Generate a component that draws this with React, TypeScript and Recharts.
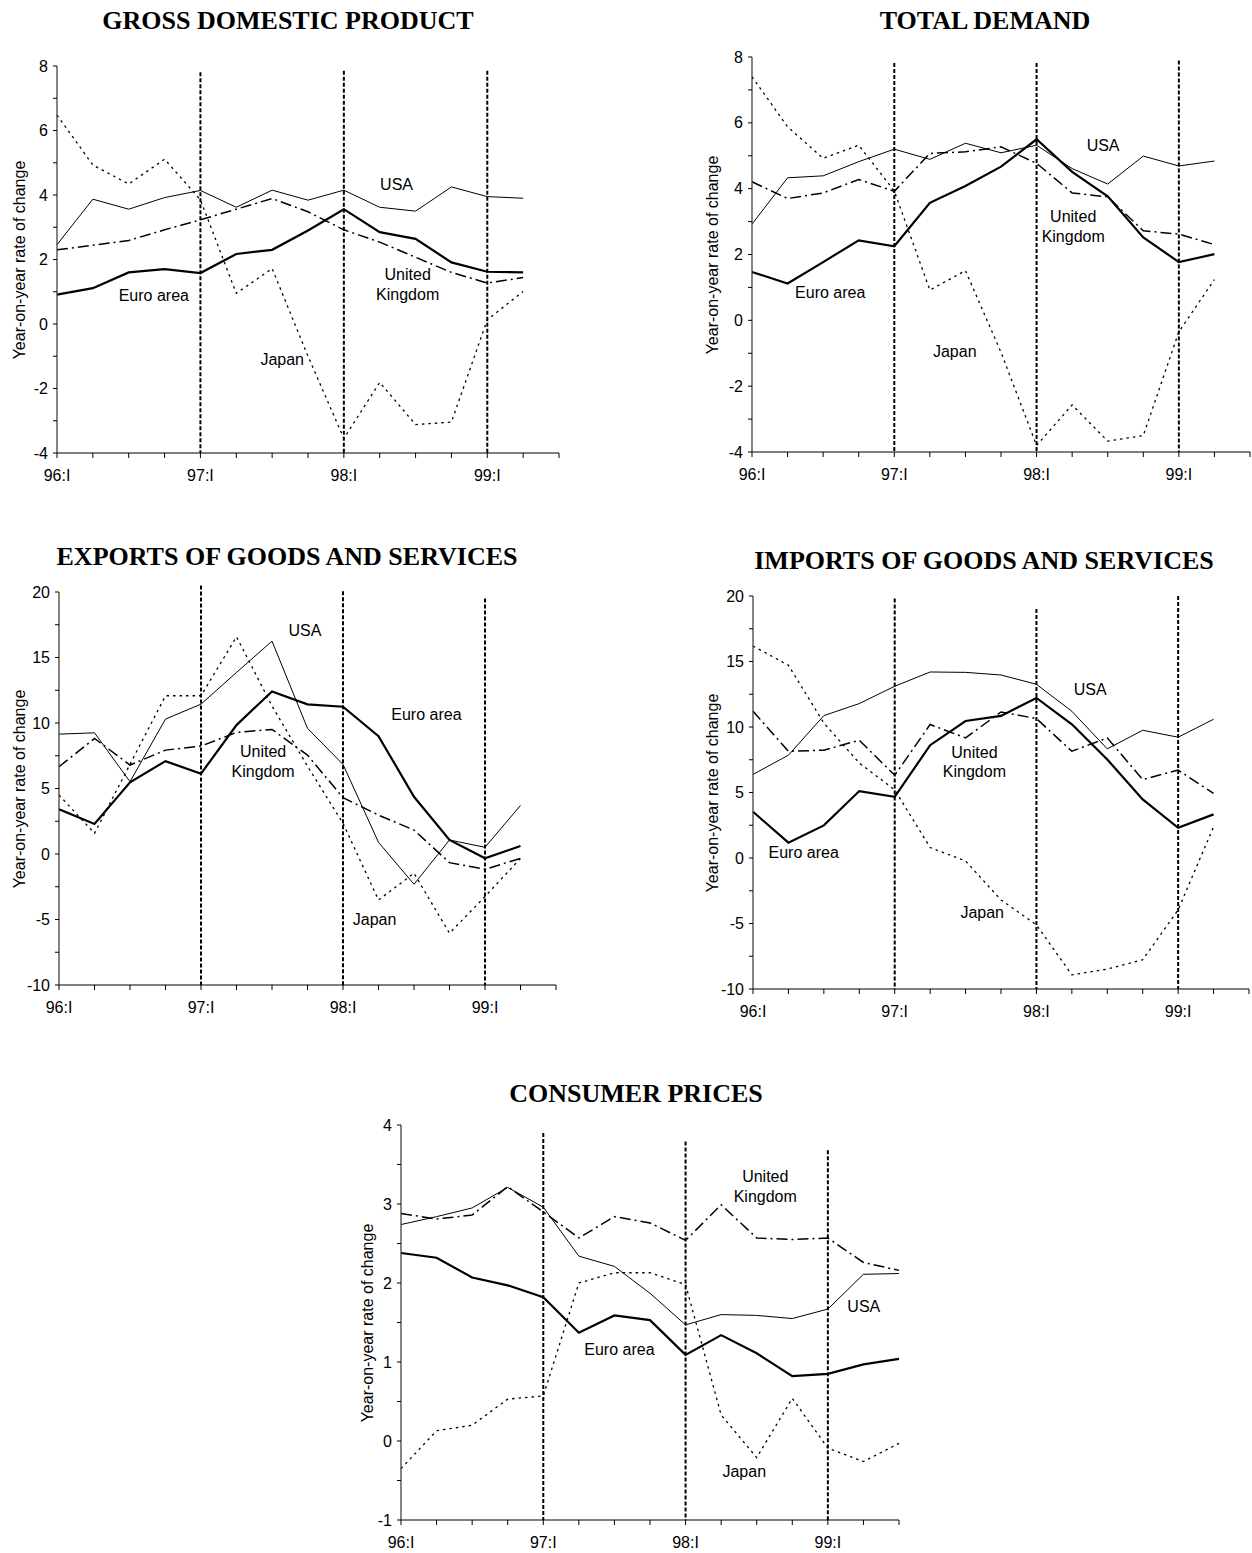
import React from 'react';
import { LineChart, Line, XAxis, YAxis, ReferenceLine, ReferenceDot } from 'recharts';

// ---------- shared axis data ----------
const quarterTicks = [0, 1, 2, 3, 4, 5, 6, 7, 8, 9, 10, 11, 12, 13, 14];
const quarterLabels = ['96:I', '', '', '', '97:I', '', '', '', '98:I', '', '', '', '99:I', '', ''];
const yearStarts = [4, 8, 12];

// ---------- GDP ----------
const gdpUSA = [2.46, 3.87, 3.56, 3.92, 4.14, 3.62, 4.15, 3.84, 4.15, 3.62, 3.5, 4.25, 3.95, 3.9];
const gdpEuro = [0.91, 1.11, 1.6, 1.7, 1.58, 2.17, 2.3, 2.9, 3.56, 2.85, 2.64, 1.91, 1.62, 1.6];
const gdpUK = [2.3, 2.44, 2.59, 2.92, 3.23, 3.56, 3.89, 3.48, 2.92, 2.54, 2.07, 1.6, 1.27, 1.44];
const gdpJapan = [6.48, 4.93, 4.34, 5.11, 3.85, 0.95, 1.72, -1.0, -3.55, -1.81, -3.12, -3.04, 0.13, 1.01];
const gdpVTops = [7.81, 7.85, 7.85];
const gdpLabelText = ['USA', 'Euro area', 'United', 'Kingdom', 'Japan'];
const gdpLabelX = [9.47, 2.7, 9.78, 9.78, 6.28];
const gdpLabelY = [4.33, 0.88, 1.55, 0.93, -1.08];

// ---------- Total demand ----------
const tdUSA = [2.92, 4.33, 4.39, 4.82, 5.2, 4.89, 5.38, 5.09, 5.32, 4.61, 4.14, 4.99, 4.69, 4.84];
const tdEuro = [1.47, 1.12, 1.77, 2.43, 2.25, 3.57, 4.08, 4.67, 5.5, 4.51, 3.77, 2.52, 1.77, 2.01];
const tdUK = [4.21, 3.7, 3.87, 4.28, 3.92, 5.07, 5.12, 5.27, 4.77, 3.87, 3.75, 2.72, 2.62, 2.3];
const tdJapan = [7.4, 5.88, 4.92, 5.32, 3.93, 0.92, 1.51, -0.97, -3.8, -2.57, -3.67, -3.5, -0.35, 1.24];
const tdVTops = [7.82, 7.82, 7.89];
const tdLabelText = ['USA', 'United', 'Kingdom', 'Euro area', 'Japan'];
const tdLabelX = [9.87, 9.03, 9.03, 2.2, 5.7];
const tdLabelY = [5.32, 3.16, 2.56, 0.84, -0.94];

// ---------- Exports ----------
const exUSA = [9.15, 9.25, 5.52, 10.3, 11.44, 13.86, 16.25, 9.59, 6.84, 0.89, -2.31, 1.07, 0.51, 3.71];
const exEuro = [3.41, 2.29, 5.47, 7.09, 6.13, 9.84, 12.41, 11.42, 11.24, 9.0, 4.37, 1.07, -0.33, 0.61];
const exUK = [6.66, 8.82, 6.79, 7.93, 8.24, 9.28, 9.51, 7.55, 4.3, 2.97, 1.83, -0.66, -1.17, -0.33];
const exJapan = [4.5, 1.58, 6.85, 12.08, 12.08, 16.58, 11.3, 6.7, 2.34, -3.51, -1.47, -6.05, -3.25, -0.33];
const exVTops = [20.5, 20.05, 19.5];
const exLabelText = ['USA', 'Euro area', 'United', 'Kingdom', 'Japan'];
const exLabelX = [6.93, 10.35, 5.75, 5.75, 8.89];
const exLabelY = [17.09, 10.65, 7.81, 6.28, -4.98];

// ---------- Imports ----------
const imUSA = [6.38, 7.85, 10.87, 11.79, 13.11, 14.2, 14.17, 13.97, 13.26, 11.2, 8.33, 9.75, 9.22, 10.59];
const imEuro = [3.53, 1.17, 2.49, 5.11, 4.67, 8.61, 10.46, 10.85, 12.22, 10.21, 7.52, 4.47, 2.31, 3.33];
const imUK = [11.2, 8.15, 8.23, 8.99, 6.32, 10.19, 9.17, 11.15, 10.64, 8.15, 9.17, 5.99, 6.71, 4.93];
const imJapan = [16.18, 14.71, 10.3, 7.25, 5.2, 0.8, -0.23, -3.2, -5.11, -8.92, -8.48, -7.77, -3.96, 2.39];
const imVTops = [19.8, 19.0, 20.0];
const imLabelText = ['USA', 'United', 'Kingdom', 'Euro area', 'Japan'];
const imLabelX = [9.52, 6.25, 6.25, 1.43, 6.47];
const imLabelY = [12.88, 8.1, 6.58, 0.41, -4.17];

// ---------- Consumer prices ----------
const cpUSA = [2.74, 2.84, 2.95, 3.21, 2.96, 2.34, 2.21, 1.87, 1.47, 1.6, 1.59, 1.55, 1.67, 2.11, 2.12];
const cpEuro = [2.38, 2.32, 2.07, 1.97, 1.82, 1.37, 1.59, 1.53, 1.09, 1.34, 1.11, 0.82, 0.85, 0.97, 1.04];
const cpUK = [2.88, 2.81, 2.86, 3.22, 2.9, 2.57, 2.84, 2.76, 2.54, 2.99, 2.57, 2.55, 2.57, 2.26, 2.16];
const cpJapan = [-0.35, 0.13, 0.2, 0.53, 0.57, 2.0, 2.13, 2.13, 1.98, 0.33, -0.21, 0.54, -0.09, -0.26, -0.03];
const cpVTops = [3.9, 3.79, 3.68];
const cpLabelText = ['United', 'Kingdom', 'USA', 'Euro area', 'Japan'];
const cpLabelX = [10.24, 10.24, 13.01, 6.14, 9.65];
const cpLabelY = [3.35, 3.1, 1.7, 1.16, -0.39];

// ---------- y ticks ----------
const ticksGrowth = [-4, -3, -2, -1, 0, 1, 2, 3, 4, 5, 6, 7, 8];
const majorGrowth = [-4, -2, 0, 2, 4, 6, 8];
const ticksTrade = [-10, -7.5, -5, -2.5, 0, 2.5, 5, 7.5, 10, 12.5, 15, 17.5, 20];
const majorTrade = [-10, -5, 0, 5, 10, 15, 20];
const ticksCPI = [-1, -0.5, 0, 0.5, 1, 1.5, 2, 2.5, 3, 3.5, 4];
const majorCPI = [-1, 0, 1, 2, 3, 4];

const SANS = '"Liberation Sans", Arial, sans-serif';
const SERIF = '"Liberation Serif", "Times New Roman", serif';

type Layout = {
  plotLeft: number; plotRight: number; plotTop: number; plotBottom: number;
  yLabelX: number; titleX: number; titleY: number;
};

type PanelCfg = {
  title: string;
  usa: number[]; euro: number[]; uk: number[]; japan: number[];
  yDomain: [number, number]; yTicks: number[]; yMajor: number[];
  vTops: number[];
  labelText: string[]; labelX: number[]; labelY: number[];
  layout: Layout;
};

const panels: PanelCfg[] = [
  {
    title: 'GROSS DOMESTIC PRODUCT', usa: gdpUSA, euro: gdpEuro, uk: gdpUK, japan: gdpJapan,
    yDomain: [-4, 8], yTicks: ticksGrowth, yMajor: majorGrowth, vTops: gdpVTops,
    labelText: gdpLabelText, labelX: gdpLabelX, labelY: gdpLabelY,
    layout: { plotLeft: 57, plotRight: 559, plotTop: 66, plotBottom: 453, yLabelX: 20, titleX: 288, titleY: 21 },
  },
  {
    title: 'TOTAL DEMAND', usa: tdUSA, euro: tdEuro, uk: tdUK, japan: tdJapan,
    yDomain: [-4, 8], yTicks: ticksGrowth, yMajor: majorGrowth, vTops: tdVTops,
    labelText: tdLabelText, labelX: tdLabelX, labelY: tdLabelY,
    layout: { plotLeft: 752, plotRight: 1250, plotTop: 57, plotBottom: 452, yLabelX: 713, titleX: 985, titleY: 21 },
  },
  {
    title: 'EXPORTS OF GOODS AND SERVICES', usa: exUSA, euro: exEuro, uk: exUK, japan: exJapan,
    yDomain: [-10, 20], yTicks: ticksTrade, yMajor: majorTrade, vTops: exVTops,
    labelText: exLabelText, labelX: exLabelX, labelY: exLabelY,
    layout: { plotLeft: 59, plotRight: 556, plotTop: 592, plotBottom: 985, yLabelX: 20, titleX: 287, titleY: 557 },
  },
  {
    title: 'IMPORTS OF GOODS AND SERVICES', usa: imUSA, euro: imEuro, uk: imUK, japan: imJapan,
    yDomain: [-10, 20], yTicks: ticksTrade, yMajor: majorTrade, vTops: imVTops,
    labelText: imLabelText, labelX: imLabelX, labelY: imLabelY,
    layout: { plotLeft: 753, plotRight: 1249, plotTop: 596, plotBottom: 989, yLabelX: 713, titleX: 984, titleY: 561 },
  },
  {
    title: 'CONSUMER PRICES', usa: cpUSA, euro: cpEuro, uk: cpUK, japan: cpJapan,
    yDomain: [-1, 4], yTicks: ticksCPI, yMajor: majorCPI, vTops: cpVTops,
    labelText: cpLabelText, labelX: cpLabelX, labelY: cpLabelY,
    layout: { plotLeft: 401, plotRight: 899, plotTop: 1125, plotBottom: 1520, yLabelX: 368, titleX: 636, titleY: 1094 },
  },
];

function Panel({ cfg }: { cfg: PanelCfg }) {
  const { layout: L } = cfg;
  const rows = cfg.usa.map((_, i) => ({
    q: i, usa: cfg.usa[i], euro: cfg.euro[i], uk: cfg.uk[i], japan: cfg.japan[i],
  }));
  const yW = 50;
  const mT = 22;
  const xH = 40;
  const mR = Math.max(1, Math.min(6, 1252 - L.plotRight));
  const W = yW + (L.plotRight - L.plotLeft) + mR;
  const H = mT + (L.plotBottom - L.plotTop) + xH;

  const renderXTick = (p: any) => {
    const lab = quarterLabels[Math.round(p.payload.value)] || '';
    if (!lab) return <g />;
    return (
      <text x={p.x} y={p.y + 15} textAnchor="middle" dominantBaseline="central"
        fontSize={16} fontFamily={SANS} fill="#000">{lab}</text>
    );
  };
  const renderYTick = (p: any) => {
    const v = p.payload.value;
    if (!cfg.yMajor.includes(v)) return <g />;
    return (
      <text x={p.x - 3} y={p.y} textAnchor="end" dominantBaseline="central"
        fontSize={16} fontFamily={SANS} fill="#000">{String(v)}</text>
    );
  };

  return (
    <>
      <div style={{
        position: 'absolute', left: L.titleX, top: L.titleY, transform: 'translate(-50%, -50%)',
        fontFamily: SERIF, fontWeight: 'bold', fontSize: 26, lineHeight: 1, whiteSpace: 'nowrap', color: '#000',
      }}>{cfg.title}</div>
      <div style={{
        position: 'absolute', left: L.yLabelX, top: (L.plotTop + L.plotBottom) / 2,
        transform: 'translate(-50%, -50%) rotate(-90deg)',
        fontFamily: SANS, fontSize: 16, lineHeight: 1, whiteSpace: 'nowrap', color: '#000',
      }}>Year-on-year rate of change</div>
      <div style={{ position: 'absolute', left: L.plotLeft - yW, top: L.plotTop - mT }}>
        <LineChart width={W} height={H} data={rows} margin={{ top: mT, right: mR, bottom: 0, left: 0 }}>
          <XAxis type="number" dataKey="q" domain={[0, 14]} ticks={quarterTicks} interval={0}
            height={xH} tickSize={5} tick={renderXTick}
            axisLine={{ stroke: '#000', strokeWidth: 1 }} tickLine={{ stroke: '#000', strokeWidth: 1 }} />
          <YAxis type="number" domain={cfg.yDomain} ticks={cfg.yTicks} interval={0}
            width={yW} tickSize={4} tick={renderYTick}
            axisLine={{ stroke: '#333', strokeWidth: 1.2 }} tickLine={{ stroke: '#000', strokeWidth: 1 }} />
          <Line type="linear" dataKey="japan" stroke="#000" strokeWidth={1.3} strokeDasharray="2.5 4"
            dot={false} activeDot={false} isAnimationActive={false} />
          <Line type="linear" dataKey="uk" stroke="#000" strokeWidth={1.5} strokeDasharray="11 4 2 4"
            dot={false} activeDot={false} isAnimationActive={false} />
          <Line type="linear" dataKey="usa" stroke="#000" strokeWidth={1}
            dot={false} activeDot={false} isAnimationActive={false} />
          <Line type="linear" dataKey="euro" stroke="#000" strokeWidth={2.2}
            dot={false} activeDot={false} isAnimationActive={false} />
          {yearStarts.map((x, i) => (
            <ReferenceLine key={'v' + i} ifOverflow="visible"
              segment={[{ x, y: cfg.vTops[i] }, { x, y: cfg.yDomain[0] }]}
              stroke="#000" strokeWidth={2} strokeDasharray="4 2" />
          ))}
          {cfg.labelText.map((t, i) => (
            <ReferenceDot key={'l' + i} x={cfg.labelX[i]} y={cfg.labelY[i]} r={0}
              fill="none" stroke="none" ifOverflow="visible"
              label={{ value: t, position: 'center', fill: '#000', fontSize: 16, fontFamily: SANS }} />
          ))}
        </LineChart>
      </div>
    </>
  );
}

export default function App() {
  return (
    <div style={{
      position: 'absolute', left: 0, top: 0, width: 1252, height: 1553,
      background: '#fff', overflow: 'hidden',
    }}>
      {panels.map((p, i) => <Panel key={i} cfg={p} />)}
    </div>
  );
}
